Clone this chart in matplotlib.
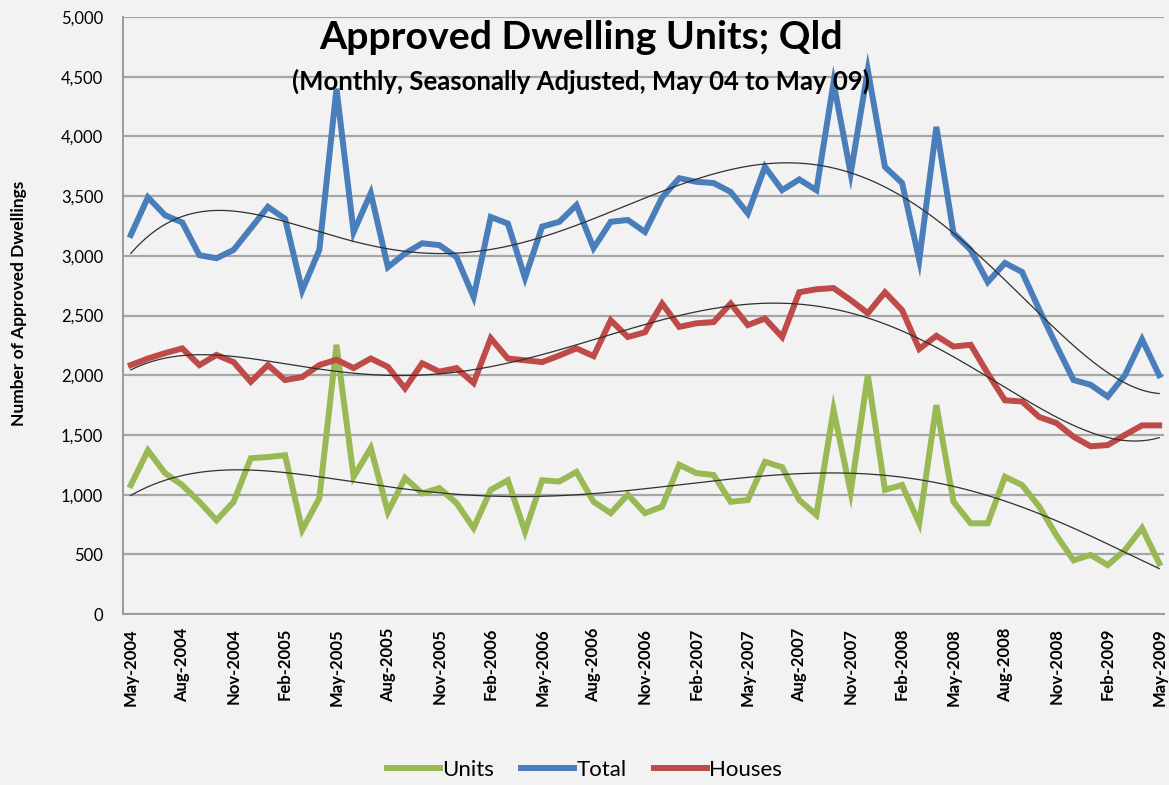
import numpy as np
import pandas as pd
import matplotlib
matplotlib.use("Agg")
import matplotlib.pyplot as plt
from matplotlib.ticker import FuncFormatter

# Monthly approvals, May-2004 .. May-2009
months = pd.date_range("2004-05-01", "2009-05-01", freq="MS")

total = [3175, 3490, 3340, 3280, 3005, 2980, 3050, 3230, 3410, 3310,
         2710, 3050, 4400, 3200, 3525, 2905, 3020, 3105, 3090, 2990,
         2655, 3325, 3270, 2815, 3245, 3285, 3425, 3065, 3285, 3300,
         3200, 3490, 3650, 3620, 3610, 3535, 3355, 3745, 3550, 3640,
         3550, 4450, 3690, 4555, 3745, 3610, 2965, 4080, 3190, 3050,
         2780, 2940, 2865, 2550, 2250, 1960, 1920, 1820, 2000, 2300,
         2000]

houses = [2085, 2140, 2185, 2225, 2085, 2170, 2110, 1945, 2085, 1960,
          1985, 2085, 2130, 2060, 2140, 2070, 1890, 2100, 2030, 2060,
          1935, 2310, 2140, 2125, 2110, 2165, 2225, 2160, 2460, 2320,
          2360, 2600, 2405, 2435, 2445, 2600, 2420, 2475, 2320, 2695,
          2720, 2730, 2630, 2520, 2695, 2545, 2220, 2330, 2240, 2255,
          2015, 1790, 1780, 1650, 1600, 1485, 1405, 1415, 1500, 1580,
          1580]

units = [1080, 1370, 1180, 1080, 940, 785, 940, 1305, 1315, 1330,
         705, 970, 2255, 1150, 1390, 855, 1140, 1010, 1055, 930,
         720, 1040, 1120, 690, 1120, 1110, 1190, 940, 845, 1000,
         845, 900, 1250, 1180, 1165, 940, 955, 1275, 1230, 955,
         830, 1710, 1020, 2000, 1040, 1080, 760, 1750, 940, 760,
         760, 1150, 1080, 900, 660, 450, 495, 410, 535, 720,
         425]

# trendline readings, every 3rd month (May, Aug, Nov, Feb ...)
total_trend = [3020, 3327, 3383, 3286, 3155, 3054, 3020, 3049, 3174, 3314,
               3467, 3649, 3752, 3774, 3690, 3495, 3202, 2797, 2379, 2016,
               1850]
houses_trend = [2043, 2169, 2155, 2100, 2030, 1993, 2001, 2085, 2183, 2309,
                2406, 2518, 2596, 2602, 2532, 2364, 2169, 1876, 1653, 1486,
                1474]
units_trend = [997, 1150, 1214, 1186, 1128, 1066, 1016, 988, 982, 1005,
               1052, 1100, 1150, 1178, 1178, 1136, 1066, 955, 787, 578,
               383]

tick_labels = [m.strftime("%b-%Y") for m in months[::3]]

C_UNITS = "#98b954"
C_TOTAL = "#4a7ebb"
C_HOUSES = "#be4b48"
BG = "#f2f2f2"

plt.rcParams["font.family"] = ["Lato", "DejaVu Sans"]

fig = plt.figure(figsize=(11.69, 7.85), dpi=100, facecolor=BG)
ax = fig.add_axes([0.105, 0.2178, 0.891, 0.7605])
ax.set_facecolor(BG)

x = np.arange(len(months))
xt = x[::3]
xs = np.linspace(0, len(months) - 1, 400)


def smooth(values, order=6):
    # polynomial through the trendline readings
    p = np.polynomial.Polynomial.fit(xt, values, order)
    return p(xs)


for vals, col, name in [(units, C_UNITS, "Units"),
                        (total, C_TOTAL, "Total"),
                        (houses, C_HOUSES, "Houses")]:
    ax.plot(x, vals, color=col, lw=4.3, label=name, solid_joinstyle="miter",
            zorder=3)
for tr in (units_trend, total_trend, houses_trend):
    ax.plot(xs, smooth(tr), color="#303030", lw=0.9, zorder=4)

ax.set_ylim(0, 5000)
ax.set_xlim(-0.47, 60.3)
ax.set_yticks(np.arange(0, 5001, 500))
ax.yaxis.set_major_formatter(FuncFormatter(lambda v, p: f"{int(v):,}"))
ax.set_xticks(xt)
ax.set_xticklabels(tick_labels, rotation=90, fontsize=12, fontweight="bold")
ax.tick_params(axis="x", length=0, pad=10)
ax.tick_params(axis="y", length=0, labelsize=12, pad=14)
ax.grid(axis="y", color="#a6a6a6", lw=1.6)
ax.set_axisbelow(True)
for s in ("top", "right"):
    ax.spines[s].set_visible(False)
for s in ("left", "bottom"):
    ax.spines[s].set_color("#9a9a9a")
    ax.spines[s].set_linewidth(1.4)

ax.set_ylabel("Number of Approved Dwellings", fontsize=12.5, fontweight="bold")
ax.yaxis.set_label_coords(-0.092, 0.52)

fig.text(0.497, 0.952, "Approved Dwelling Units; Qld", ha="center",
         va="center", fontsize=28.3, fontweight="bold")
fig.text(0.497, 0.897, "(Monthly, Seasonally Adjusted, May 04 to May 09)",
         ha="center", va="center", fontsize=18.5, fontweight="bold")

fig.legend(loc="center", bbox_to_anchor=(0.5, 0.019), ncol=3, frameon=False,
           prop={"family": ["Liberation Sans Narrow", "Lato"], "size": 16},
           handlelength=2.4, handletextpad=0.1, columnspacing=1.2)

fig.savefig("out.png", dpi=100, facecolor=BG)
